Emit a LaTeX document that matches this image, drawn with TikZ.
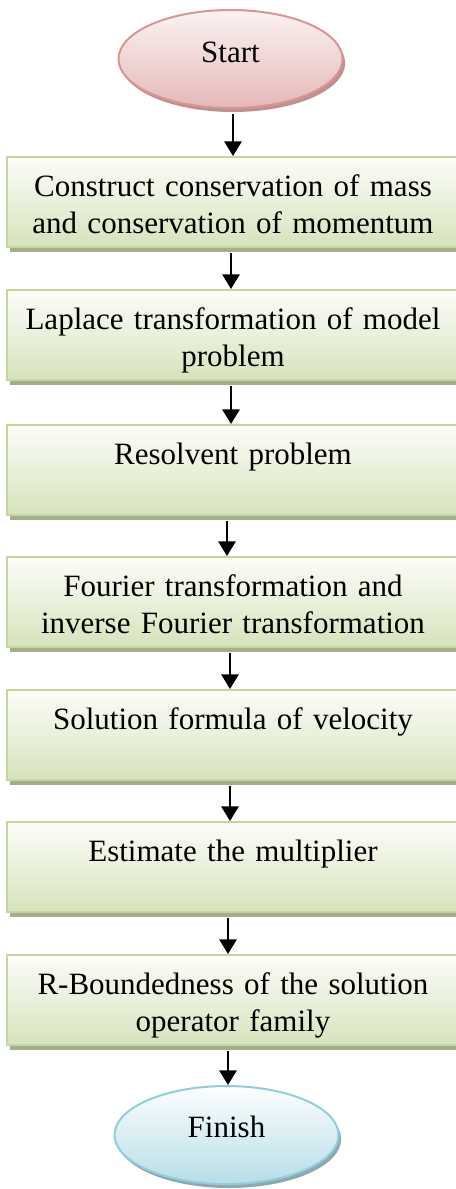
\documentclass[tikz,border=0pt]{standalone}
\usepackage{fontspec}
\setmainfont{Liberation Serif}
\usetikzlibrary{shapes.geometric,shadows,arrows.meta}
\definecolor{boxtop}{HTML}{FCFDF9}
\definecolor{boxbottom}{HTML}{D6E3BC}
\definecolor{boxborder}{HTML}{C3D69B}
\definecolor{boxshadow}{HTML}{A4AE8F}
\definecolor{starttop}{HTML}{FBF3F3}
\definecolor{startbottom}{HTML}{E5B8B7}
\definecolor{startborder}{HTML}{D99594}
\definecolor{startshadow}{HTML}{BC9291}
\definecolor{fintop}{HTML}{FDFEFE}
\definecolor{finbottom}{HTML}{B6DDE8}
\definecolor{finborder}{HTML}{92CDDC}
\definecolor{finshadow}{HTML}{8CA9B1}
\begin{document}
\begin{tikzpicture}[x=0.75pt,y=-0.75pt,
  txt/.style={font=\fontsize{23.25}{27.75}\selectfont, text=black},
  stepbox/.style={txt, rectangle, minimum width=339pt, minimum height=67.5pt,
    inner sep=0pt, text width=330pt, align=center, draw=boxborder, line width=1.5pt,
    top color=boxtop, bottom color=boxbottom, text height=10pt, text depth=19pt,
    drop shadow={shadow xshift=2.25pt, shadow yshift=-3.75pt, fill=boxshadow, opacity=1}},
  terminal/.style={txt, ellipse, minimum width=168pt, minimum height=73.5pt,
    inner sep=0pt, line width=1.5pt},
  arr/.style={line width=1.6pt, -{Triangle[width=13pt,length=11pt]}}]
\useasboundingbox (0,0) rectangle (456,1189);
\node[terminal, draw=startborder, top color=starttop, bottom color=startbottom,
  text height=10pt, text depth=5.5pt,
  drop shadow={shadow xshift=2pt, shadow yshift=-3pt, fill=startshadow, opacity=1}]
  (s) at (230.5,59) {Start};
\node[stepbox] (b1) at (233,202) {Construct conservation of mass\\and conservation of momentum};
\node[stepbox] (b2) at (233,335) {Laplace transformation of model\\problem};
\node[stepbox] (b3) at (233,470) {Resolvent problem};
\node[stepbox] (b4) at (233,602) {Fourier transformation and\\inverse Fourier transformation};
\node[stepbox] (b5) at (233,735) {Solution formula of velocity};
\node[stepbox] (b6) at (233,867) {Estimate the multiplier};
\node[stepbox] (b7) at (233,1000) {R-Boundedness of the solution\\operator family};
\node[terminal, draw=finborder, top color=fintop, bottom color=finbottom,
  text height=10pt, text depth=7pt,
  drop shadow={shadow xshift=2pt, shadow yshift=-3pt, fill=finshadow, opacity=1}]
  (f) at (226.5,1135) {Finish};
\draw[arr] (b1.north |- s.south) ++(0,5) -- (b1.north);
\draw[arr] ([xshift=-1.5pt,yshift=-4pt]b1.south) -- ([xshift=-1.5pt]b2.north);
\draw[arr] ([xshift=-1.5pt,yshift=-4pt]b2.south) -- ([xshift=-1.5pt]b3.north);
\draw[arr] ([xshift=-4.5pt,yshift=-4pt]b3.south) -- ([xshift=-4.5pt]b4.north);
\draw[arr] ([xshift=-2.25pt,yshift=-4pt]b4.south) -- ([xshift=-2.25pt]b5.north);
\draw[arr] ([xshift=-2.25pt,yshift=-4pt]b5.south) -- ([xshift=-2.25pt]b6.north);
\draw[arr] ([xshift=-3.75pt,yshift=-4pt]b6.south) -- ([xshift=-3.75pt]b7.north);
\draw[arr] ([xshift=-3.75pt,yshift=-4pt]b7.south) -- ([xshift=-3.75pt]b7.south |- f.north);
\end{tikzpicture}
\end{document}
